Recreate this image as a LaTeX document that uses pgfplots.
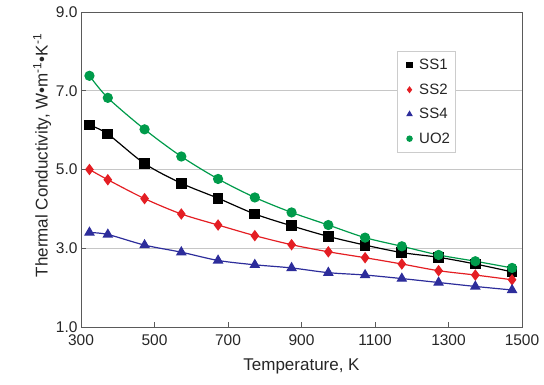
\documentclass[border=0pt]{standalone}
\usepackage{fontspec}
\setmainfont{Liberation Sans}
\usepackage{pgfplots}
\pgfplotsset{compat=1.18}
\definecolor{cgreen}{RGB}{0,155,75}
\definecolor{cred}{RGB}{228,30,35}
\definecolor{cblue}{RGB}{45,45,155}
\definecolor{frame}{RGB}{90,90,90}
\begin{document}
\begin{tikzpicture}[x=1pt,y=1pt]
\useasboundingbox (0,0) rectangle (544,384);
\begin{axis}[
  at={(81pt,57pt)}, anchor=south west,
  scale only axis, width=441pt, height=315pt,
  xmin=300, xmax=1500, ymin=1, ymax=9,
  xtick={300,500,...,1500}, ytick={1,3,5,7,9},
  axis line style={frame, line width=0.9pt},
  tick style={frame, line width=0.6pt},
  xtick pos=bottom, ytick pos=left,
  major tick length=5pt,
  ymajorgrids, grid style={gray!45, line width=0.8pt},
  /pgf/number format/assume math mode=true,
  yticklabel style={/pgf/number format/.cd, fixed, fixed zerofill, precision=1},
  xticklabel style={/pgf/number format/.cd, 1000 sep={}, /tikz/.cd, yshift=-4.5pt},
  tick label style={font=\fontsize{15.5}{15.5}\selectfont, text=black!85},
  label style={font=\fontsize{17}{18}\selectfont, text=black!85},
  xlabel={Temperature, K},
  ylabel={Thermal Conductivity, W•m\textsuperscript{-1}•K\textsuperscript{-1}},
  ylabel style={yshift=-2pt, xshift=14pt},
  xlabel style={yshift=-6pt},
  legend style={at={(0.717,0.876)}, anchor=north west, draw=gray!40, font=\fontsize{15}{15}\selectfont, text=black!85, inner xsep=3pt, inner ysep=6pt, row sep=8.5pt},
  legend cell align=left,
  legend image code/.code={\draw[#1, mark size=2.6pt] plot[only marks] coordinates {(0.3cm,0cm)};\path (0cm,0cm) (0.55cm,0cm);},
  every axis plot/.append style={line width=1.2pt, smooth},
]
\addplot[black, mark=square*, mark size=4.8pt, mark options={solid}] coordinates {
(323,6.13) (373,5.90) (473,5.15) (573,4.65) (673,4.27) (773,3.87) (873,3.57) (973,3.30) (1073,3.08) (1173,2.89) (1273,2.77) (1373,2.60) (1473,2.40)};
\addlegendentry{SS1}
\addplot[cred, mark=diamond*, mark size=4.8pt] coordinates {
(323,5.00) (373,4.74) (473,4.26) (573,3.87) (673,3.59) (773,3.32) (873,3.09) (973,2.91) (1073,2.76) (1173,2.60) (1273,2.43) (1373,2.32) (1473,2.20)};
\addlegendentry{SS2}
\addplot[cblue, mark=triangle*, mark size=5pt] coordinates {
(323,3.40) (373,3.35) (473,3.08) (573,2.90) (673,2.69) (773,2.58) (873,2.50) (973,2.38) (1073,2.32) (1173,2.23) (1273,2.13) (1373,2.03) (1473,1.94)};
\addlegendentry{SS4}
\addplot[cgreen, mark=*, mark size=4.5pt] coordinates {
(323,7.38) (373,6.82) (473,6.02) (573,5.33) (673,4.76) (773,4.29) (873,3.91) (973,3.59) (1073,3.27) (1173,3.05) (1273,2.83) (1373,2.67) (1473,2.50)};
\addlegendentry{UO2}
\end{axis}
\end{tikzpicture}
\end{document}
